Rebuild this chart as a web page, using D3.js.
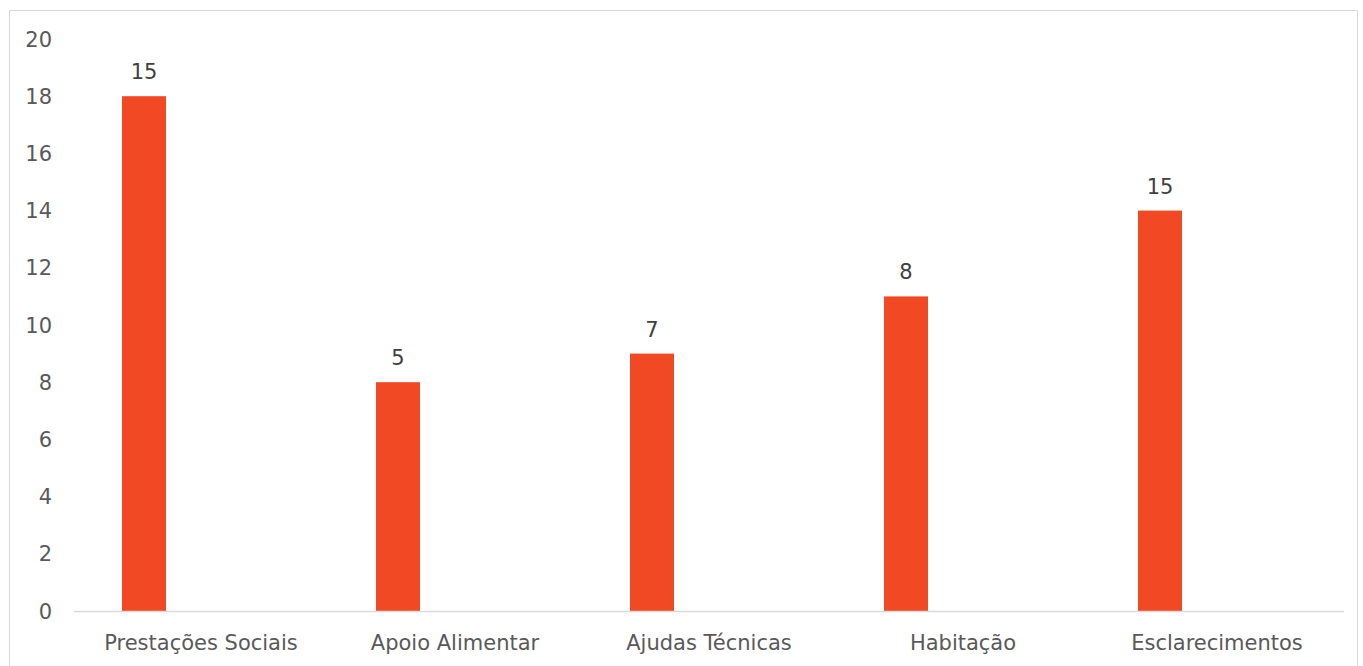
<!DOCTYPE html>
<html><head><meta charset="utf-8">
<script src="https://cdn.jsdelivr.net/npm/d3@7"></script>
<style>body{margin:0;background:#fff;}svg{display:block;}</style>
</head><body>
<svg id="c" width="1363" height="666"></svg>
<script>
const categories = ["Prestações Sociais","Apoio Alimentar","Ajudas Técnicas","Habitação","Esclarecimentos"];
const barValues = [18, 8, 9, 11, 14];
const dataLabels = ["15","5","7","8","15"];
const yTicks = [0,2,4,6,8,10,12,14,16,18,20];

const svg = d3.select("#c");
const font = "DejaVu Sans, sans-serif";
// frame
svg.append("rect").attr("x",9.5).attr("y",10.5).attr("width",1348).attr("height",700)
  .attr("fill","none").attr("stroke","#d9d9d9");

const x = d3.scaleBand().domain(categories).range([74,1344]);
const y = d3.scaleLinear().domain([0,20]).range([611,39]);
const barW = 44, barOff = -57;

// y tick labels
svg.append("g").selectAll("text").data(yTicks).join("text")
  .attr("x",52).attr("y",d=>y(d)).attr("dy","0.36em").attr("text-anchor","end")
  .attr("font-family",font).attr("font-size",21).attr("fill","#595959").text(d=>d);

// bars
svg.append("g").selectAll("rect").data(categories).join("rect")
  .attr("x",(d)=>x(d)+x.bandwidth()/2+barOff-barW/2)
  .attr("y",(d,i)=>y(barValues[i]))
  .attr("width",barW)
  .attr("height",(d,i)=>y(0)-y(barValues[i]))
  .attr("fill","#F04923");

// baseline
svg.append("line").attr("x1",74).attr("x2",1344).attr("y1",611.5).attr("y2",611.5)
  .attr("stroke","#d9d9d9").attr("stroke-width",1.5);

// data labels
svg.append("g").selectAll("text").data(categories).join("text")
  .attr("x",d=>x(d)+x.bandwidth()/2+barOff)
  .attr("y",(d,i)=>y(barValues[i])-17)
  .attr("text-anchor","middle")
  .attr("font-family",font).attr("font-size",21).attr("fill","#404040")
  .text((d,i)=>dataLabels[i]);

// category labels
svg.append("g").selectAll("text").data(categories).join("text")
  .attr("x",d=>x(d)+x.bandwidth()/2)
  .attr("y",650)
  .attr("text-anchor","middle")
  .attr("font-family",font).attr("font-size",21).attr("fill","#595959")
  .text(d=>d);
</script>
</body></html>
